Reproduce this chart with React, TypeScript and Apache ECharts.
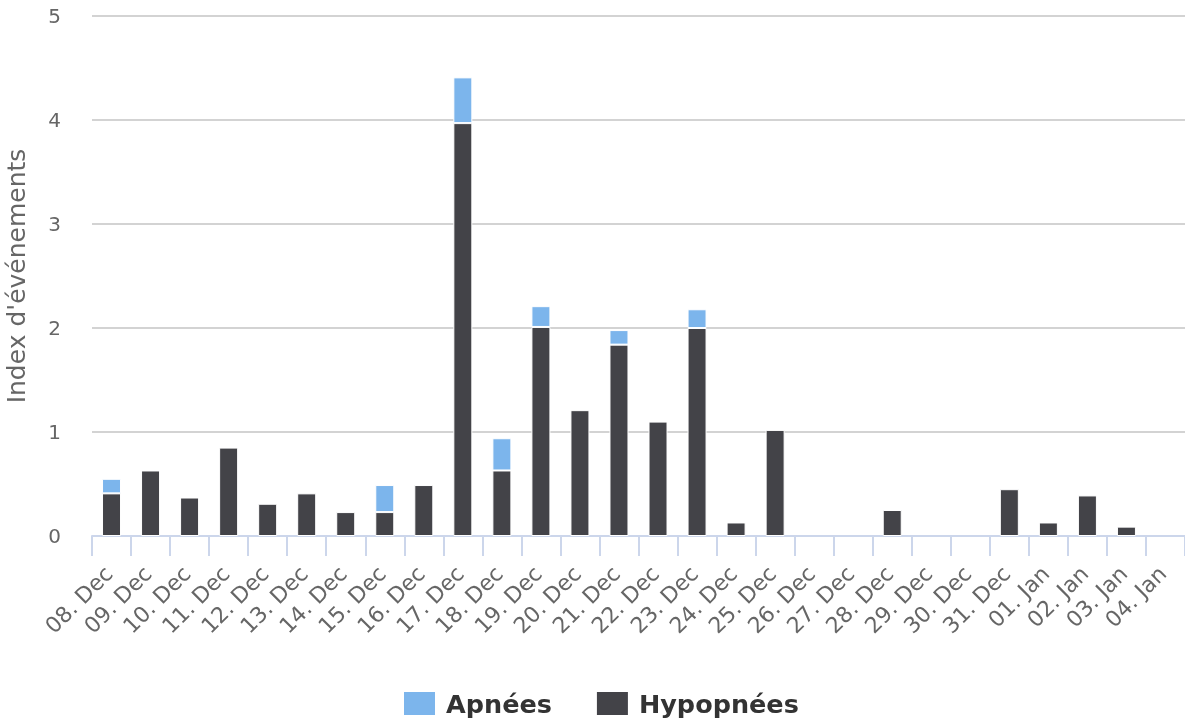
import React, { useEffect, useRef } from "react";
import * as echarts from "echarts";

const categories = [
  "08. Dec", "09. Dec", "10. Dec", "11. Dec", "12. Dec", "13. Dec", "14. Dec",
  "15. Dec", "16. Dec", "17. Dec", "18. Dec", "19. Dec", "20. Dec", "21. Dec",
  "22. Dec", "23. Dec", "24. Dec", "25. Dec", "26. Dec", "27. Dec", "28. Dec",
  "29. Dec", "30. Dec", "31. Dec", "01. Jan", "02. Jan", "03. Jan", "04. Jan",
];

const hypopnees = [
  0.41, 0.63, 0.37, 0.85, 0.31, 0.41, 0.23, 0.23, 0.49, 3.97, 0.63, 2.01, 1.21, 1.84,
  1.1, 2.0, 0.13, 1.02, 0, 0, 0.25, 0, 0, 0.45, 0.13, 0.39, 0.09, 0,
];

const apnees = [
  0.14, 0, 0, 0, 0, 0, 0, 0.26, 0, 0.44, 0.31, 0.2, 0, 0.14,
  0, 0.18, 0, 0, 0, 0, 0, 0, 0, 0, 0, 0, 0, 0,
];

const yTicks = [0, 1, 2, 3, 4, 5];

const FONT = "DejaVu Sans";

export default function App() {
  const ref = useRef<HTMLDivElement>(null);

  useEffect(() => {
    if (!ref.current) return;
    const chart = echarts.init(ref.current, undefined, { renderer: "svg" });
    const toData = (arr: number[]) => arr.map((v) => (v === 0 ? null : v));
    chart.setOption({
      animation: false,
      textStyle: { fontFamily: FONT },
      grid: {
        left: 92,
        right: 0,
        top: 16,
        bottom: 186,
        containLabel: false,
        outerBoundsMode: "none",
      },
      legend: {
        data: ["Apnées", "Hypopnées"],
        left: 402,
        top: 690,
        padding: 0,
        icon: "rect",
        itemWidth: 33,
        itemHeight: 25,
        itemGap: 43,
        textStyle: {
          fontFamily: FONT,
          fontSize: 25.5,
          lineHeight: 25,
          fontWeight: "bold",
          color: "#333333",
          padding: [0, 0, 0, 5],
        },
      },
      xAxis: {
        type: "category",
        data: categories,
        boundaryGap: true,
        axisLine: { lineStyle: { color: "#ccd6eb", width: 2 } },
        axisTick: { show: true, alignWithLabel: false, length: 20, lineStyle: { color: "#ccd6eb", width: 2 } },
        axisLabel: {
          rotate: 45,
          interval: 0,
          margin: 31,
          fontSize: 22,
          color: "#666666",
          fontFamily: FONT,
          padding: [0, 4, 0, 0],
        },
      },
      yAxis: {
        type: "value",
        min: yTicks[0],
        max: yTicks[yTicks.length - 1],
        interval: 1,
        name: "Index d'événements",
        nameLocation: "middle",
        nameGap: 63,
        nameTextStyle: { fontSize: 25, color: "#666666", fontFamily: FONT },
        axisLine: { show: false },
        axisTick: { show: false },
        axisLabel: { fontSize: 20, color: "#666666", margin: 31, fontFamily: FONT },
        splitLine: { lineStyle: { color: "#c4c4c4", width: 1.5 } },
      },
      series: [
        {
          name: "Hypopnées",
          type: "bar",
          stack: "total",
          data: toData(hypopnees),
          barWidth: 19,
          itemStyle: { color: "#434348", borderColor: "#ffffff", borderWidth: 1 },
        },
        {
          name: "Apnées",
          type: "bar",
          stack: "total",
          data: toData(apnees),
          barWidth: 19,
          itemStyle: { color: "#7cb5ec", borderColor: "#ffffff", borderWidth: 1 },
        },
      ],
    });
    return () => chart.dispose();
  }, []);

  return (
    <div
      ref={ref}
      style={{ position: "fixed", left: 0, top: 0, width: 1185, height: 722 }}
    />
  );
}
